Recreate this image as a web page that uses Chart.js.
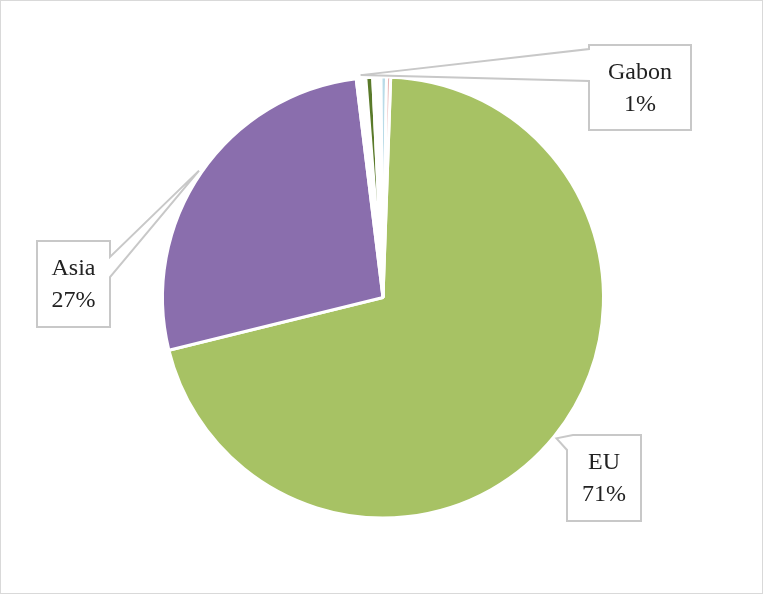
<!DOCTYPE html>
<html>
<head>
<meta charset="utf-8">
<script src="https://cdn.jsdelivr.net/npm/chart.js@4/dist/chart.umd.min.js"></script>
<style>
  html, body { margin: 0; padding: 0; background: #fff; }
  #wrap { position: relative; width: 763px; height: 594px; box-sizing: border-box; border: 1px solid #d9d9d9; }
  canvas { position: absolute; left: 0; top: 0; }
</style>
</head>
<body>
<div id="wrap"><canvas id="pie" width="763" height="594"></canvas></div>
<script>
// shares in %, clockwise from just right of 12 o'clock
const categories = ['EU', 'Asia', 'Gabon', 'Other A', 'Other B', 'Other C', 'Other D'];
const shares = [70.6, 26.9, 0.7, 0.5, 0.6, 0.4, 0.3];
const colors = ['#a7c264', '#8a6ead', '#ffffff', '#5a7a2a', '#ffffff', '#b9dbe8', '#e8b4b4'];
const labelled = ['EU', 'Asia', 'Gabon'];

// callout boxes: [x0, y0, x1, y1], wedge side and base
const boxes = {
  EU:    { rect: [566, 434, 640, 520], side: 'corner', a: 449, b: 572 },
  Asia:  { rect: [36, 240, 109, 326], side: 'right', a: 256, b: 276 },
  Gabon: { rect: [588, 44, 690, 129], side: 'left',  a: 48, b: 80 }
};

const total = shares.reduce((s, v) => s + v, 0);

const callouts = {
  id: 'callouts',
  afterDatasetsDraw(chart) {
    const c = chart.ctx;
    const meta = chart.getDatasetMeta(0);
    labelled.forEach(name => {
      const i = categories.indexOf(name);
      const arc = meta.data[i];
      const mid = (arc.startAngle + arc.endAngle) / 2;
      const tip = [arc.x + Math.cos(mid) * (arc.outerRadius + 3), arc.y + Math.sin(mid) * (arc.outerRadius + 3)];
      const bx = boxes[name];
      const [x0, y0, x1, y1] = bx.rect;
      c.save();
      c.beginPath();
      if (bx.side === 'left') {
        c.moveTo(x0, y0); c.lineTo(x1, y0); c.lineTo(x1, y1); c.lineTo(x0, y1);
        c.lineTo(x0, bx.b); c.lineTo(tip[0], tip[1]); c.lineTo(x0, bx.a);
      } else if (bx.side === 'right') {
        c.moveTo(x0, y0); c.lineTo(x1, y0); c.lineTo(x1, bx.a); c.lineTo(tip[0], tip[1]);
        c.lineTo(x1, bx.b); c.lineTo(x1, y1); c.lineTo(x0, y1);
      } else {
        c.moveTo(x0, y1); c.lineTo(x0, bx.a); c.lineTo(tip[0], tip[1]); c.lineTo(bx.b, y0);
        c.lineTo(x1, y0); c.lineTo(x1, y1);
      }
      c.closePath();
      c.fillStyle = '#ffffff';
      c.fill();
      c.lineWidth = 2;
      c.strokeStyle = '#c8c8c8';
      c.stroke();
      c.fillStyle = '#222';
      c.font = '24px "Liberation Serif", "DejaVu Serif", serif';
      c.textAlign = 'center';
      c.textBaseline = 'middle';
      const cx = (x0 + x1) / 2, cy = (y0 + y1) / 2;
      const pct = Math.round(shares[i] / total * 100) + '%';
      c.fillText(name, cx, cy - 15);
      c.fillText(pct, cx, cy + 17);
      c.restore();
    });
  }
};

new Chart(document.getElementById('pie'), {
  type: 'pie',
  data: {
    labels: categories,
    datasets: [{
      data: shares,
      backgroundColor: colors,
      borderColor: '#ffffff',
      borderWidth: 3
    }]
  },
  options: {
    responsive: false,
    animation: false,
    rotation: 2,
    layout: { padding: { top: 74, bottom: 75, left: 160, right: 159 } },
    plugins: {
      legend: { display: false },
      tooltip: { enabled: false }
    }
  },
  plugins: [callouts]
});
</script>
</body>
</html>
